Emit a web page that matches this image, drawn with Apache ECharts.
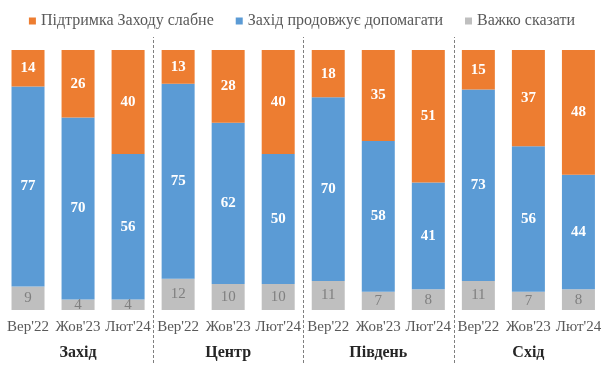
<!DOCTYPE html>
<html lang="uk" style="width: 100%; height: 100%">
<head>
  <meta charset="utf-8">
</head>
<body style="width: 604px; height: 376px; margin: 0">
  <div id="container" style="width: 604px; height: 376px"></div>

  <script type="text/javascript" src="https://cdn.jsdelivr.net/npm/echarts@6/dist/echarts.min.js"></script>

  <script type="text/javascript">

var dom = document.getElementById('container');
var myChart = echarts.init(dom, null, { renderer: 'canvas' });

// дані
var months = ["Вер'22", "Жов'23", "Лют'24"];
var regions = ['Захід', 'Центр', 'Південь', 'Схід'];
var seriesNames = ['Підтримка Заходу слабне', 'Захід продовжує допомагати', 'Важко сказати'];

var weakening = [14, 26, 40, 13, 28, 40, 18, 35, 51, 15, 37, 48];
var helping   = [77, 70, 56, 75, 62, 50, 70, 58, 41, 73, 56, 44];
var hardToSay = [9, 4, 4, 12, 10, 10, 11, 7, 8, 11, 7, 8];

var categories = [];
regions.forEach(function () {
  months.forEach(function (m) { categories.push(m); });
});

// 100% stacked, like the original Excel chart
function share(arr) {
  return arr.map(function (v, i) {
    var total = weakening[i] + helping[i] + hardToSay[i];
    return { value: v / total * 100, raw: v };
  });
}

var serif = 'Liberation Serif';

function barSeries(name, arr, color, label) {
  return {
    name: name,
    type: 'bar',
    stack: 'all',
    barWidth: 33,
    data: share(arr),
    itemStyle: { color: color },
    label: Object.assign({
      show: true,
      position: 'inside',
      fontFamily: serif,
      fontSize: 15,
      formatter: function (p) { return p.data.raw; }
    }, label)
  };
}

var option = {
  animation: false,
  legend: {
    top: 8,
    left: 'center',
    itemWidth: 7,
    itemHeight: 7,
    itemGap: 22,
    icon: 'rect',
    data: seriesNames,
    textStyle: { fontFamily: serif, fontSize: 16, color: '#595959' }
  },
  grid: [
    { left: 3, width: 604, top: 50, height: 260 },
    { left: 3, width: 604, top: 37, height: 326 }
  ],
  xAxis: [
    {
      type: 'category',
      gridIndex: 0,
      data: categories,
      axisLine: { show: false },
      axisTick: { show: false },
      axisLabel: { interval: 0, margin: 10, fontFamily: serif, fontSize: 15, color: '#595959' }
    },
    {
      type: 'category',
      gridIndex: 0,
      position: 'bottom',
      data: regions,
      axisLine: { show: false },
      axisTick: { show: false },
      axisLabel: { interval: 0, margin: 35, fontFamily: serif, fontSize: 16, fontWeight: 'bold', color: '#262626' }
    },
    {
      type: 'value',
      gridIndex: 1,
      min: 0,
      max: 12,
      show: false
    }
  ],
  yAxis: [
    { type: 'value', gridIndex: 0, min: 0, max: 100, show: false },
    { type: 'value', gridIndex: 1, min: 0, max: 1, show: false }
  ],
  series: [
    barSeries(seriesNames[2], hardToSay, '#bfbfbf', { color: '#7f7f7f' }),
    barSeries(seriesNames[1], helping, '#5b9bd5', { color: '#ffffff', fontWeight: 'bold' }),
    barSeries(seriesNames[0], weakening, '#ed7d31', { color: '#ffffff', fontWeight: 'bold' }),
    {
      // dashed separators between regions
      type: 'scatter',
      xAxisIndex: 2,
      yAxisIndex: 1,
      data: [],
      silent: true,
      markLine: {
        silent: true,
        symbol: ['none', 'none'],
        label: { show: false },
        lineStyle: { type: [3, 2], color: '#7f7f7f', width: 1 },
        data: [{ xAxis: 3 }, { xAxis: 6 }, { xAxis: 9 }]
      }
    }
  ]
};

myChart.setOption(option);

  </script>
</body>
</html>
